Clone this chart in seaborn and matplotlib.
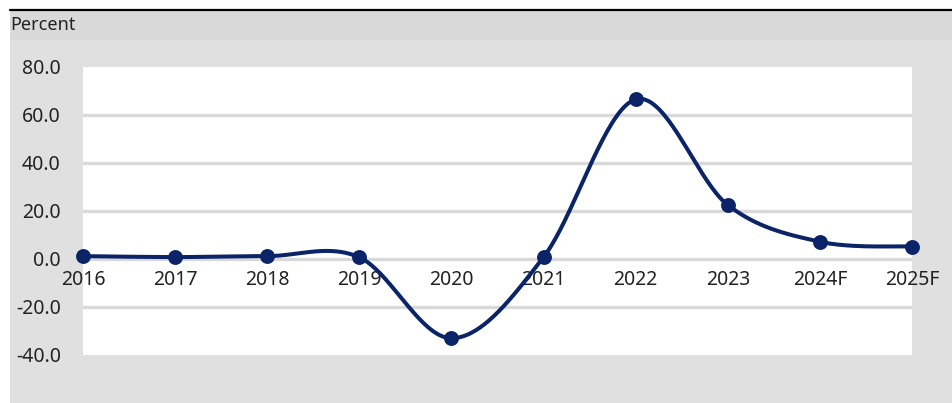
import numpy as np
import matplotlib as mpl
import matplotlib.pyplot as plt
import seaborn as sns
import pandas as pd

years = ['2016', '2017', '2018', '2019', '2020', '2021', '2022', '2023', '2024F', '2025F']
growth = [1.2, 0.8, 1.2, 0.7, -33.0, 0.8, 66.5, 22.5, 7.2, 5.2]
yticks = [-40, -20, 0, 20, 40, 60, 80]

navy = '#0b2468'
grid_grey = '#d9d9d9'
bg_grey = '#e0e0e0'
band_grey = '#d9d9d9'


def smooth(x, y, n=40):
    # excel-like smoothed line: catmull-rom segments as cubic beziers
    x = np.asarray(x, float)
    y = np.asarray(y, float)
    px = np.concatenate([[x[0]], x, [x[-1]]])
    py = np.concatenate([[y[0]], y, [y[-1]]])
    xs, ys = [], []
    t = np.linspace(0, 1, n)
    for i in range(1, len(px) - 2):
        p0 = np.array([px[i], py[i]])
        p3 = np.array([px[i + 1], py[i + 1]])
        c1 = p0 + (p3 - np.array([px[i - 1], py[i - 1]])) / 6
        c2 = p3 - (np.array([px[i + 2], py[i + 2]]) - p0) / 6
        b = ((1 - t) ** 3)[:, None] * p0 + (3 * (1 - t) ** 2 * t)[:, None] * c1 \
            + (3 * (1 - t) * t ** 2)[:, None] * c2 + (t ** 3)[:, None] * p3
        xs.append(b[:, 0])
        ys.append(b[:, 1])
    return np.concatenate(xs), np.concatenate(ys)


sns.set_style('white')
plt.rcParams['font.family'] = ['Noto Sans', 'DejaVu Sans']
plt.rcParams['text.color'] = '#222222'

W, H = 952, 403
fig = plt.figure(figsize=(W / 100, H / 100), dpi=100, facecolor='white')

# background panels
fig.patches.append(mpl.patches.Rectangle((10 / W, 0), 1, (H - 40) / H, transform=fig.transFigure,
                                         facecolor=bg_grey, edgecolor='none', zorder=-10))
fig.patches.append(mpl.patches.Rectangle((10 / W, (H - 40) / H), 1, 30 / H, transform=fig.transFigure,
                                         facecolor=band_grey, edgecolor='none', zorder=-10))
fig.add_artist(mpl.lines.Line2D([10 / W, 1], [(H - 9.5) / H, (H - 9.5) / H], transform=fig.transFigure,
                                color='black', lw=1.6))
fig.text(10 / W, (H - 25) / H, 'Percent', fontsize=13, va='center', ha='left', color='#222222')

ax = fig.add_axes([83 / W, (H - 355) / H, (912 - 83) / W, (355 - 67) / H])
ax.set_facecolor('white')

df = pd.DataFrame({'pos': np.arange(len(years)), 'growth': growth})
sx, sy = smooth(df['pos'], df['growth'])
sns.lineplot(x=sx, y=sy, sort=False, color=navy, lw=2.9, ax=ax, clip_on=False, zorder=3)
sns.scatterplot(data=df, x='pos', y='growth', color=navy, s=115, edgecolor=navy, linewidth=0,
                ax=ax, clip_on=False, zorder=4)

for v in yticks[1:-1]:
    ax.axhline(v, color=grid_grey, lw=2.4, zorder=1)

ax.set_xlim(0, len(years) - 1)
ax.set_ylim(-40, 80)
ax.set_yticks(yticks)
ax.set_yticklabels([f'{v:.1f}' for v in yticks])
ax.set_xticks(df['pos'])
ax.set_xticklabels(years)
ax.spines['bottom'].set_position(('data', 0))
for s in ax.spines.values():
    s.set_visible(False)
ax.tick_params(axis='x', length=0, pad=8, labelsize=14, colors='#222222')
ax.tick_params(axis='y', length=0, pad=16, labelsize=14, colors='#222222')
ax.set_xlabel('')
ax.set_ylabel('')

fig.savefig('out.png', dpi=100)
